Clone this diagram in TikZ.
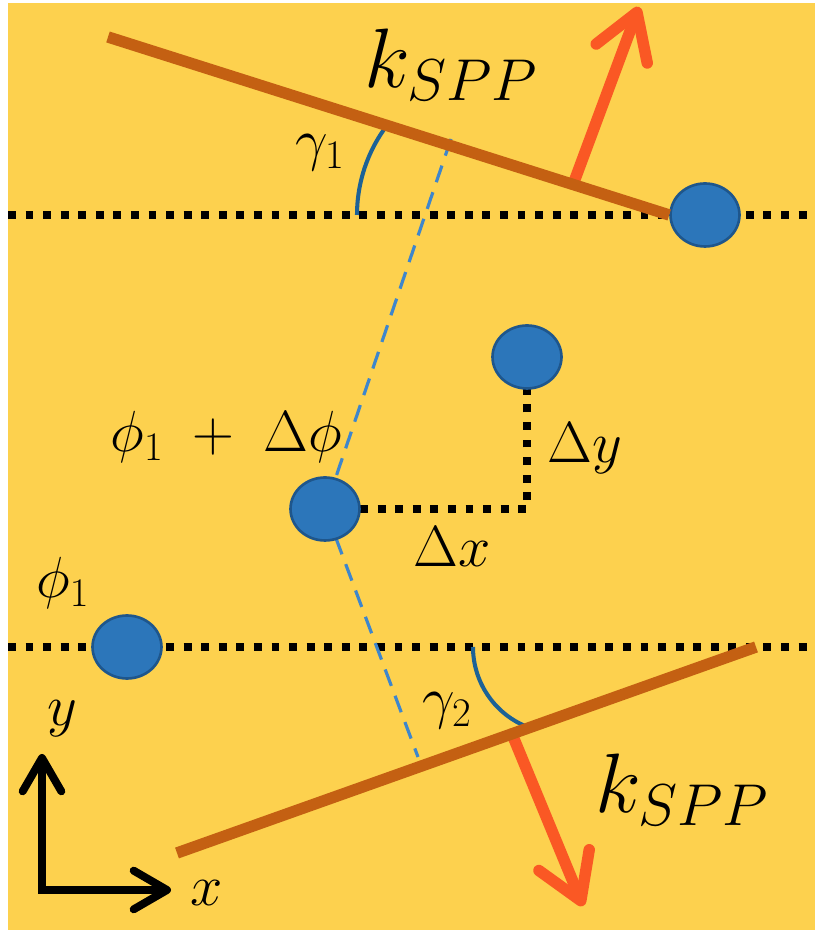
\RequirePackage{fix-cm}
\documentclass[tikz,border=0pt]{standalone}
\usepackage{amsmath}
\usepackage{xcolor}
\usepackage{tikz}
\usetikzlibrary{arrows.meta, shapes.geometric}

\definecolor{bgyellow}{RGB}{253,209,78}
\definecolor{linebrown}{RGB}{196,96,18}
\definecolor{kred}{RGB}{250,88,36}
\definecolor{dotblue}{RGB}{44,118,186}
\definecolor{dotedge}{RGB}{30,86,140}
\definecolor{dashblue}{RGB}{62,134,204}
\definecolor{arcblue}{RGB}{28,98,150}

\begin{document}
\begin{tikzpicture}[x=0.02cm, y=0.02cm,
    dotline/.style={black, line width=4.5pt, dash pattern=on 4.5pt off 5.5pt},
    dashline/.style={dashblue, line width=1.8pt, dash pattern=on 10pt off 6pt},
    brownline/.style={linebrown, line width=6.5pt},
    kvec/.style={kred, line width=6.5pt, line cap=round,
      -{Straight Barb[round, length=25pt, width=31pt]}},
    anglearc/.style={arcblue, line width=2.3pt},
    axisline/.style={black, line width=4.5pt,
      {Straight Barb[round, length=19pt, width=22pt]}-{Straight Barb[round, length=19pt, width=22pt]}},
    bluedot/.style={ellipse, draw=dotedge, fill=dotblue, line width=1.5pt,
      minimum width=1.38cm, minimum height=1.26cm, inner sep=0pt},
    lbl/.style={inner sep=0pt, font=\fontsize{33}{38}\selectfont},
    klbl/.style={inner sep=0pt, font=\fontsize{48}{54}\selectfont}]

  % background
  \useasboundingbox (0,0) rectangle (815,936);
  \fill[bgyellow] (8,6) rectangle (815,933);

  % dotted reference lines
  \draw[dotline] (8,721) -- (815,721);
  \draw[dotline] (8,289) -- (815,289);

  % phase points
  \coordinate (ctoppos) at (705,721);
  \coordinate (midpos) at (325,427);
  \coordinate (urpos) at (527,579);
  \coordinate (leftpos) at (127,289);

  % dashed blue guide through the middle point
  \coordinate (dtop) at (451,797);
  \coordinate (dbot) at (418,179);
  \draw[dashline] (dtop) -- (midpos) -- (dbot);

  % dx / dy steps
  \coordinate (corner) at (urpos |- midpos);
  \draw[dotline] (midpos) -- (corner) -- (urpos);

  % angle arcs
  \draw[anglearc] (357,721) arc[start angle=180, end angle=142, radius=149];
  \draw[anglearc] (473,289) arc[start angle=180, end angle=247, radius=86];

  % wave vectors
  \coordinate (ktopbase) at (574,754);
  \coordinate (ktoptip) at (639,929);
  \coordinate (kbotbase) at (512,202);
  \coordinate (kbottip) at (583,30);
  \draw[kvec] (ktopbase) -- (ktoptip);
  \draw[kvec] (kbotbase) -- (kbottip);

  % wavefronts
  \node[bluedot] (ctop) at (ctoppos) {};
  \coordinate (btop) at (108,899);
  \coordinate (bbotl) at (177,83);
  \coordinate (bbotr) at (756,289);
  \draw[brownline] (btop) -- (ctop.west);
  \draw[brownline] (bbotl) -- (bbotr);

  % points
  \node[bluedot] (mid) at (midpos) {};
  \node[bluedot] (ur) at (urpos) {};
  \node[bluedot] (left) at (leftpos) {};

  % axes
  \coordinate (origin) at (42,46);
  \coordinate (ytip) at (42,182);
  \coordinate (xtip) at (171,46);
  \draw[axisline] (ytip) -- (origin) -- (xtip);

  % labels
  \node[klbl, anchor=base west] (ktoplbl) at (364,848) {$k_{SPP}$};
  \node[klbl, anchor=base west] (kbotlbl) at (595,123) {$k_{SPP}$};
  \node[lbl, anchor=base east] (g1lbl) at (345,776) {$\gamma_1$};
  \node[lbl, anchor=base east] (g2lbl) at (472,218) {$\gamma_2$};
  \node[lbl, anchor=base east] (phidlbl) at (342,484) {$\phi_1\;+\;\Delta\phi$};
  \node[lbl, anchor=base west] (philbl) at (36,338) {$\phi_1$};
  \node[lbl, anchor=base west] (dxlbl) at (413,369) {$\Delta x$};
  \node[lbl, anchor=base west] (dylbl) at (547,473) {$\Delta y$};
  \node[lbl, anchor=base west] (ylbl) at (47,210) {$y$};
  \node[lbl, anchor=base west] (xlbl) at (190,31) {$x$};
\end{tikzpicture}
\end{document}
